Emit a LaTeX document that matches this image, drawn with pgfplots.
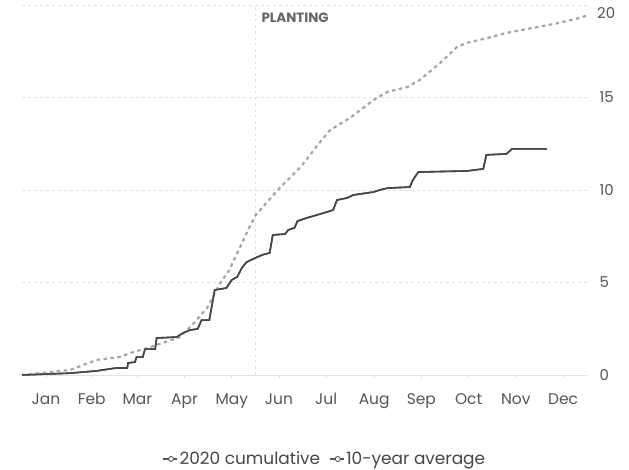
\documentclass[border=0pt]{standalone}
\usepackage{pgfplots}
\pgfplotsset{compat=1.18}
\usepackage{pgfplotstable}
\usepackage{fontspec}
\setmainfont{Poppins}

\definecolor{solidc}{HTML}{474747}
\definecolor{dashc}{HTML}{A5A5A5}
\definecolor{gridc}{HTML}{E2E2E2}
\definecolor{tickc}{HTML}{555555}

% day of year, cumulative value
\pgfplotstableread{
day val
0 0
31 0.1
48 0.22
61 0.38
68 0.38
68.5 0.65
73 0.7
74 0.97
78 0.97
79.5 1.4
86 1.4
87 2.0
100 2.05
104 2.27
108.5 2.43
113.5 2.49
116 2.97
121 2.97
124.5 4.6
132 4.7
135.5 5.14
139 5.3
142 5.78
145 6.1
150.5 6.32
155.5 6.5
160 6.6
162 7.57
170 7.62
172 7.84
176 7.95
178 8.32
184 8.49
190.5 8.65
197 8.81
201 8.92
203.5 9.46
210 9.57
214 9.73
227 9.89
231 10.0
236 10.1
250.5 10.16
252.5 10.54
256 10.97
287.5 11.03
298 11.14
300 11.9
313 11.95
316.5 12.22
339 12.22
}\cumtwenty

\pgfplotstableread{
day val
0 0
31 0.27
48 0.81
63 0.97
70 1.19
81 1.46
102 2.05
110 2.7
120 3.68
128 4.97
134 5.68
136 6.05
147 8.0
151 8.65
167 10.16
180 11.24
191 12.43
199 13.24
212 13.9
227 14.86
236 15.3
249 15.57
257 15.95
270 16.86
281 17.73
287 17.95
300 18.2
313 18.49
330 18.76
347 19.03
360 19.3
366 19.46
}\tenyear

\begin{document}
\begin{tikzpicture}
\useasboundingbox (0,0) rectangle (629bp,470bp);
\begin{axis}[
  at={(22bp,95bp)}, anchor=south west,
  scale only axis, width=565bp, height=370bp,
  xmin=0, xmax=365, ymin=0, ymax=20,
  clip=false,
  axis x line*=bottom, axis y line*=right,
  x axis line style={draw=gridc, line width=1pt, -},
  y axis line style={draw=none},
  xtick={15.5,45,74.5,105,135.5,166,196.5,227.5,258,288.5,319,349.5},
  xticklabels={Jan,Feb,Mar,Apr,May,Jun,Jul,Aug,Sep,Oct,Nov,Dec},
  ytick={0,5,10,15,20},
  yticklabels={0,5,10,15,{}},
  tick align=outside,
  major tick length=3bp,
  xtick style={draw=gridc, line width=0.8pt},
  ytick style={draw=none},
  ymajorgrids, grid style={dashed, draw=gridc, line width=0.8pt},
  xticklabel style={font=\fontsize{15.5}{17}\selectfont, text=tickc},
  yticklabel style={font=\fontsize{15}{17}\selectfont, text=tickc},
  xticklabel shift=12bp,
  yticklabel shift=6bp,
  /pgf/number format/assume math mode=true,
  legend style={at={(0.536,-0.227)}, anchor=center, draw=none, fill=none,
    font=\fontsize{17}{20}\selectfont, text=solidc,
    /tikz/every even column/.append style={column sep=7bp}},
  legend columns=2,
  legend image code/.code={
    \draw[tickc, solid, line width=1.1pt] (0bp,0bp) -- (14bp,0bp);
    \draw[tickc, solid, line width=0.9pt, fill=white] (8bp,0bp) circle (2.5bp);},
]
\draw[dashed, draw=gridc, line width=0.8pt] (axis cs:150.5,0) -- (axis cs:150.5,20);
\node[anchor=west, font=\bfseries\fontsize{13.5}{15}\selectfont, text=black!60]
  at (axis cs:152.5,19.3) {PLANTING};
\node[anchor=west, font=\fontsize{15}{17}\selectfont, text=tickc, inner sep=0pt]
  at (axis cs:365,20) [xshift=10bp, yshift=-8bp] {20};
\addplot[solidc, line width=1.6pt] table[x=day, y=val] {\cumtwenty};
\addlegendentry{2020 cumulative}
\addplot[dashc, line width=2.2pt, dash pattern=on 3.5pt off 3.5pt] table[x=day, y=val] {\tenyear};
\addlegendentry{10-year average}
\addplot[solidc, line width=1.6pt, forget plot] table[x=day, y=val] {\cumtwenty};
\end{axis}
\end{tikzpicture}
\end{document}
